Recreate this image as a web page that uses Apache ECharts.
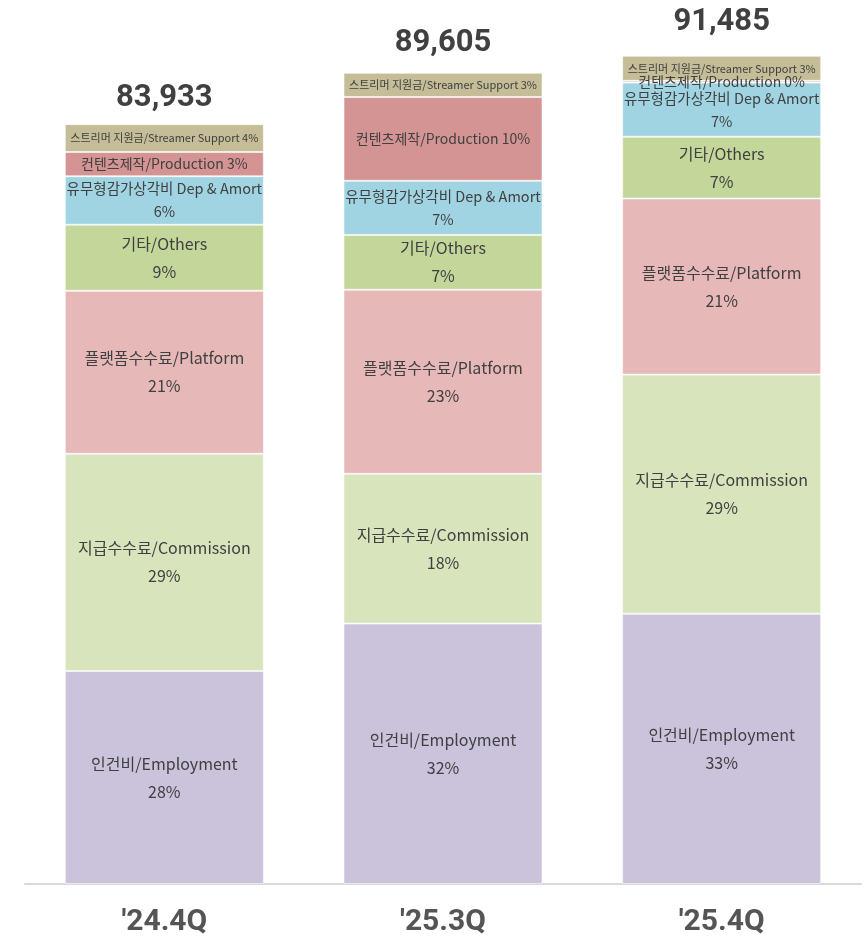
<!DOCTYPE html>
<html>
<head>
<meta charset="utf-8">
<script src="https://cdn.jsdelivr.net/npm/echarts@6/dist/echarts.min.js"></script>
<style>
  html, body { margin: 0; padding: 0; background: #fff; }
  #chart { width: 866px; height: 937px; }
</style>
</head>
<body>
<div id="chart"></div>
<script>
// quarters on the x axis
const quarters = ["'24.4Q", "'25.3Q", "'25.4Q"];
const totals = [83933, 89605, 91485];

// cost items, bottom of the stack first (estimated amounts)
const employment = [23525, 28765, 29850];
const commission = [24000, 16550, 26420];
const platform = [18000, 20330, 19450];
const others = [7300, 6055, 6825];
const depAmort = [5360, 5980, 5980];
const production = [2675, 9250, 200];
const streamer = [3073, 2675, 2760];

const names = ['인건비/Employment', '지급수수료/Commission', '플랫폼수수료/Platform', '기타/Others',
  '유무형감가상각비 Dep & Amort', '컨텐츠제작/Production', '스트리머 지원금/Streamer Support'];
const colors = ['#cbc2dc', '#d8e4bc', '#e6b8b7', '#c4d79b', '#a0d4e2', '#d49493', '#c4bd97'];

// totals sit at slightly different heights above each bar
const totalGap = [10, 14, 18];

const textColor = '#404040';
const font = '"Noto Sans CJK KR", "Noto Sans", sans-serif';

const pct = (v, i) => Math.round(v / totals[i] * 100) + '%';

function twoLine(size, lh) {
  return {
    show: true,
    position: 'inside',
    color: textColor,
    fontFamily: font,
    fontSize: size,
    lineHeight: lh,
    formatter: p => p.seriesName + '\n' + pct(p.value, p.dataIndex)
  };
}
function oneLine(size) {
  return {
    show: true,
    position: 'inside',
    color: textColor,
    fontFamily: font,
    fontSize: size,
    formatter: p => p.seriesName + ' ' + pct(p.value, p.dataIndex)
  };
}

const dataSets = [employment, commission, platform, others, depAmort, production, streamer];
const labels = [twoLine(16, 28), twoLine(16, 28), twoLine(16, 28), twoLine(16, 28),
  twoLine(14.5, 23), oneLine(14), oneLine(11)];

const series = dataSets.map((d, i) => ({
  name: names[i],
  type: 'bar',
  stack: 'cost',
  barWidth: 199,
  data: d,
  itemStyle: { color: colors[i], borderColor: 'rgba(255,255,255,0.55)', borderWidth: 1 },
  label: labels[i]
}));

// zero-height bar on top just to carry the total
series.push({
  name: 'total',
  type: 'bar',
  stack: 'cost',
  barWidth: 199,
  data: totals.map((t, i) => ({ value: 0, label: { distance: totalGap[i] } })),
  itemStyle: { color: 'transparent' },
  label: {
    show: true,
    position: 'top',
    color: textColor,
    fontFamily: 'Roboto, sans-serif',
    fontWeight: 'bold',
    fontSize: 31,
    formatter: p => totals[p.dataIndex].toLocaleString('en-US')
  }
});

const chart = echarts.init(document.getElementById('chart'));
chart.setOption({
  animation: false,
  grid: { left: 25, right: 5, top: 24, bottom: 50 },
  xAxis: {
    type: 'category',
    data: quarters,
    axisLine: { lineStyle: { color: '#d9d9d9', width: 2 } },
    axisTick: { show: false },
    axisLabel: {
      margin: 23,
      color: '#555',
      fontFamily: 'Roboto, sans-serif',
      fontWeight: 'bold',
      fontSize: 30
    }
  },
  yAxis: { type: 'value', min: 0, max: 95000, show: false, splitLine: { show: false } },
  series: series
});
</script>
</body>
</html>
